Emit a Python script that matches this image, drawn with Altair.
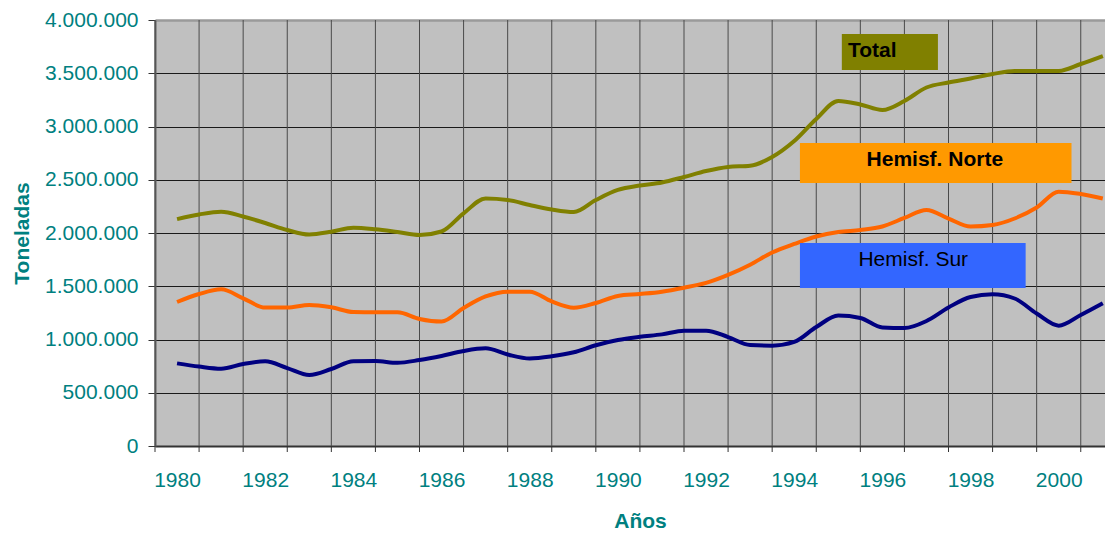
import altair as alt
import pandas as pd

# Half-year sample positions (years)
years = [1980.0, 1980.5, 1981.0, 1981.5, 1982.0, 1982.5, 1983.0, 1983.5, 1984.0, 1984.5,
         1985.0, 1985.5, 1986.0, 1986.5, 1987.0, 1987.5, 1988.0, 1988.5, 1989.0, 1989.5,
         1990.0, 1990.5, 1991.0, 1991.5, 1992.0, 1992.5, 1993.0, 1993.5, 1994.0, 1994.5,
         1995.0, 1995.5, 1996.0, 1996.5, 1997.0, 1997.5, 1998.0, 1998.5, 1999.0, 1999.5,
         2000.0, 2000.5, 2001.0]

total = [2130000, 2174000, 2200000, 2155000, 2094000, 2028000, 1986000, 2012000, 2050000, 2035000,
         2009000, 1981000, 2014000, 2185000, 2324000, 2310000, 2263000, 2221000, 2197000, 2310000,
         2404000, 2446000, 2474000, 2526000, 2582000, 2620000, 2632000, 2714000, 2864000, 3071000,
         3240000, 3207000, 3155000, 3240000, 3366000, 3413000, 3451000, 3493000, 3521000, 3521000,
         3521000, 3587000, 3662000]

norte = [1352000, 1427000, 1471000, 1387000, 1300000, 1300000, 1324000, 1302000, 1258000, 1255000,
         1255000, 1193000, 1169000, 1296000, 1404000, 1449000, 1449000, 1357000, 1299000, 1343000,
         1409000, 1427000, 1449000, 1486000, 1531000, 1606000, 1702000, 1817000, 1897000, 1967000,
         2009000, 2028000, 2061000, 2141000, 2216000, 2136000, 2061000, 2075000, 2136000, 2240000,
         2388000, 2366000, 2324000]

sur = [776000, 746000, 726000, 770000, 795000, 732000, 667000, 723000, 796000, 798000,
       781000, 807000, 845000, 892000, 917000, 859000, 822000, 842000, 880000, 946000,
       995000, 1025000, 1048000, 1083000, 1083000, 1023000, 948000, 942000, 977000, 1117000,
       1225000, 1202000, 1113000, 1108000, 1174000, 1301000, 1399000, 1424000, 1385000, 1244000,
       1130000, 1230000, 1340000]

series_names = ["Total", "Hemisf. Norte", "Hemisf. Sur"]
line_colors = ["#808000", "#FF6600", "#000080"]

# Annotation boxes (data units)
box_labels = ["Total", "Hemisf. Norte", "Hemisf. Sur"]
box_x1 = [1995.08, 1994.13, 1994.13]
box_x2 = [1997.26, 2000.29, 1999.25]
box_y1 = [3868000, 2845000, 1906000]
box_y2 = [3530000, 2469000, 1484000]
box_colors = ["#808000", "#FF9900", "#3366FF"]
text_x = [1995.22, 1997.19, 1996.70]
text_y = [3712000, 2690000, 1750000]

y_ticks = [0, 500000, 1000000, 1500000, 2000000, 2500000, 3000000, 3500000, 4000000]
x_label_years = [1980, 1982, 1984, 1986, 1988, 1990, 1992, 1994, 1996, 1998, 2000]
# category boundaries (gridlines / tick marks)
x_bounds = [1979.5, 1980.5, 1981.5, 1982.5, 1983.5, 1984.5, 1985.5, 1986.5, 1987.5, 1988.5,
            1989.5, 1990.5, 1991.5, 1992.5, 1993.5, 1994.5, 1995.5, 1996.5, 1997.5, 1998.5,
            1999.5, 2000.5]

rows = []
for name, vals in zip(series_names, [total, norte, sur]):
    for yr, v in zip(years, vals):
        rows.append({"serie": name, "anio": yr, "ton": v})
df = pd.DataFrame(rows)

boxes = pd.DataFrame({"label": box_labels, "x1": box_x1, "x2": box_x2,
                      "y1": box_y1, "y2": box_y2, "color": box_colors,
                      "tx": text_x, "ty": text_y})
bounds = pd.DataFrame({"b": x_bounds})

FONT = "Liberation Sans"
TEAL = "#008080"

x_scale = alt.Scale(domain=[1979.5, 2001.05], nice=False, zero=False)
y_scale = alt.Scale(domain=[0, 4000000], nice=False, zero=True)

x_axis = alt.Axis(
    values=x_label_years,
    title="Años",
    format="d",
    labelOverlap=False,
    labelFlush=False,
    labelFont=FONT, labelFontSize=21, labelColor=TEAL, labelPadding=23,
    ticks=False, grid=False,
    domainColor="#333333", domainWidth=2,
    titleFont=FONT, titleFontSize=21, titleFontWeight="bold", titleColor=TEAL,
    titleX=485, titleY=75, titleAlign="center", titleBaseline="middle",
)

y_axis = alt.Axis(
    values=y_ticks,
    title="Toneladas",
    labelExpr="replace(format(datum.value, ',d'), regexp(',', 'g'), '.')",
    labelFont=FONT, labelFontSize=21, labelColor=TEAL, labelPadding=10,
    tickSize=7, tickColor="#333333", tickWidth=1,
    grid=True,
    gridColor={"condition": {"test": "datum.value === 4000000", "value": "#9a9a9a"}, "value": "#1a1a1a"},
    gridWidth={"condition": {"test": "datum.value === 4000000", "value": 2.5}, "value": 1},
    domainColor="#606060", domainWidth=2,
    titleFont=FONT, titleFontSize=21, titleFontWeight="bold", titleColor=TEAL,
    titleAngle=270, titleX=-133, titleY=213, titleAlign="center", titleBaseline="middle",
)

vgrid = alt.Chart(bounds).mark_rule(color="#4a4a4a", strokeWidth=1).encode(
    x=alt.X("b:Q", scale=x_scale, axis=x_axis),
    y=alt.value(0), y2=alt.value(426),
)

xticks = alt.Chart(bounds).mark_rule(color="#333333", strokeWidth=1).encode(
    x=alt.X("b:Q", scale=x_scale),
    y=alt.value(426), y2=alt.value(432),
)

lines = alt.Chart(df).mark_line(strokeWidth=4, interpolate="monotone").encode(
    x=alt.X("anio:Q", scale=x_scale, axis=x_axis),
    y=alt.Y("ton:Q", scale=y_scale, axis=y_axis),
    color=alt.Color("serie:N", scale=alt.Scale(domain=series_names, range=line_colors), legend=None),
    detail="serie:N",
)

rects = alt.Chart(boxes).mark_rect().encode(
    x="x1:Q", x2="x2", y="y1:Q", y2="y2",
    color=alt.Color("color:N", scale=None),
)

text_total = alt.Chart(boxes[boxes["label"] == "Total"]).mark_text(
    font=FONT, fontSize=21, fontWeight="bold", color="black", baseline="middle", align="left"
).encode(x="tx:Q", y="ty:Q", text="label:N")

text_norte = alt.Chart(boxes[boxes["label"] == "Hemisf. Norte"]).mark_text(
    font=FONT, fontSize=21, fontWeight="bold", color="black", baseline="middle", align="center"
).encode(x="tx:Q", y="ty:Q", text="label:N")

text_sur = alt.Chart(boxes[boxes["label"] == "Hemisf. Sur"]).mark_text(
    font=FONT, fontSize=21, fontWeight="normal", color="black", baseline="middle", align="center"
).encode(x="tx:Q", y="ty:Q", text="label:N")

chart = alt.layer(vgrid, xticks, lines, rects, text_total, text_norte, text_sur).properties(
    width=950,
    height=426,
    autosize=alt.AutoSizeParams(type="none"),
    padding={"left": 147, "top": 12, "right": 0, "bottom": 85},
    background="white",
).configure_view(
    fill="#C0C0C0", stroke="transparent"
)

chart.save("out.html", embed_options={"renderer": "svg", "actions": False})
